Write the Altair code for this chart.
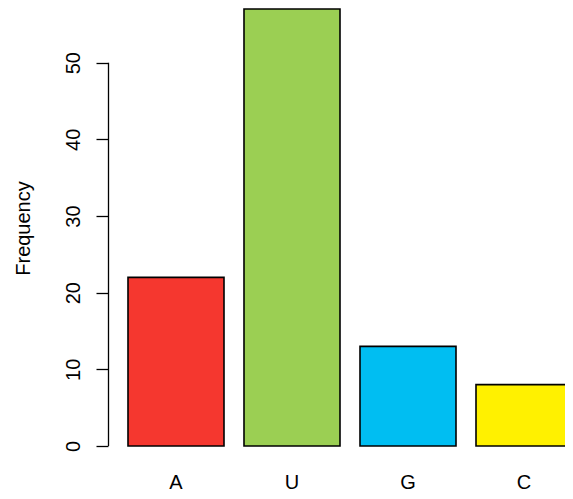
import altair as alt
import pandas as pd

categories = ["A", "U", "G", "C"]
values = [22, 57, 13, 8]
colors = ["#F5372F", "#9BCF53", "#00BEF2", "#FFF100"]
y_ticks = [0, 10, 20, 30, 40, 50]

df = pd.DataFrame({"base": categories, "freq": values})

FONT = "Liberation Sans"
FS = 20

x_enc = alt.X("base:N", sort=categories,
              scale=alt.Scale(range=[0, 484], paddingInner=0.1724, paddingOuter=0.1724,
                              align=0.5, round=False),
              axis=alt.Axis(title=None, domain=False, ticks=False, labelAngle=0,
                            labelFont=FONT, labelFontSize=FS, labelColor="black",
                            labelBaseline="top", labelPadding=26))

y_scale = alt.Scale(domain=[0, 57], nice=False, zero=True)

bars = alt.Chart(df).mark_bar(stroke="black", strokeWidth=1.6).encode(
    x=x_enc,
    y=alt.Y("freq:Q", scale=y_scale,
            axis=alt.Axis(title="Frequency", values=y_ticks, domain=False, grid=False,
                          tickSize=12, tickWidth=1.3, tickColor="black",
                          labelAngle=-90, labelAlign="center", labelBaseline="middle",
                          labelPadding=23, labelFont=FONT, labelFontSize=FS, labelColor="black",
                          titleFont=FONT, titleFontSize=FS, titleFontWeight="normal",
                          titleColor="black", titleAngle=-90, titleAlign="center",
                          titleBaseline="middle", titleX=-85, titleY=219)),
    color=alt.Color("base:N", scale=alt.Scale(domain=categories, range=colors), legend=None),
)

axis_line = alt.Chart(pd.DataFrame({"lo": [y_ticks[0]], "hi": [y_ticks[-1]]})).mark_rule(
    color="black", strokeWidth=1.3
).encode(
    x=alt.value(0.5),
    y=alt.Y("lo:Q", scale=y_scale),
    y2="hi:Q",
)

chart = alt.layer(bars, axis_line).properties(
    width=457, height=437,
    background="white",
    autosize=alt.AutoSizeParams(type="none"),
    padding={"left": 100, "top": 1, "right": 0, "bottom": 45},
).configure_view(stroke=None)

chart.save("out.html", embed_options={"renderer": "svg", "actions": False})
